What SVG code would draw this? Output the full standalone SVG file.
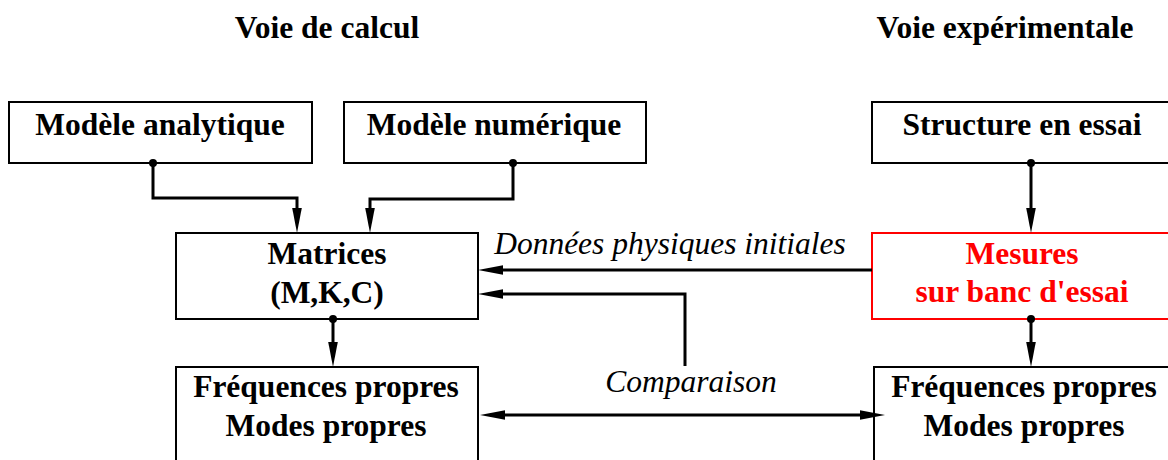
<svg xmlns="http://www.w3.org/2000/svg" width="1168" height="460" viewBox="0 0 1168 460">
  <style>
    .box { fill: #ffffff; stroke: #000000; stroke-width: 2; }
    .box-red { fill: #ffffff; stroke: #ff0000; stroke-width: 2; }
    .lbl { font-family: "Liberation Serif", "Times New Roman", serif; font-size: 31.5px; font-weight: bold; fill: #000000; text-anchor: middle; }
    .lbl-red { fill: #ff0000; }
    .note { font-family: "Liberation Serif", "Times New Roman", serif; font-size: 31.5px; font-style: italic; fill: #000000; text-anchor: middle; }
    .wire { fill: none; stroke: #000000; stroke-width: 3; }
    .dot { fill: #000000; }
  </style>
  <defs>
    <marker id="head" markerUnits="userSpaceOnUse" markerWidth="26" markerHeight="12" refX="15" refY="4.8" orient="auto-start-reverse">
      <path d="M0,0 L25,4.8 L0,9.6 z" fill="#000000"/>
    </marker>
  </defs>

  <!-- column headings -->
  <text class="lbl" x="327" y="38">Voie de calcul</text>
  <text class="lbl" x="1005" y="38">Voie expérimentale</text>

  <g id="modele-analytique">
    <rect class="box" x="9" y="102" width="303" height="61"/>
    <text class="lbl" x="160" y="135">Modèle analytique</text>
  </g>

  <g id="modele-numerique">
    <rect class="box" x="344" y="102" width="302" height="61"/>
    <text class="lbl" x="494" y="135">Modèle numérique</text>
  </g>

  <g id="structure-essai">
    <rect class="box" x="872" y="102" width="300" height="61"/>
    <text class="lbl" x="1022" y="135">Structure en essai</text>
  </g>

  <g id="matrices">
    <rect class="box" x="176" y="233" width="302" height="86"/>
    <text class="lbl" x="327" y="264">Matrices</text>
    <text class="lbl" x="327" y="303">(M,K,C)</text>
  </g>

  <g id="mesures">
    <rect class="box-red" x="872" y="233" width="300" height="86"/>
    <text class="lbl lbl-red" x="1022" y="264">Mesures</text>
    <text class="lbl lbl-red" x="1022" y="302">sur banc d'essai</text>
  </g>

  <g id="frequences-calcul">
    <rect class="box" x="176" y="367" width="302" height="110"/>
    <text class="lbl" x="326" y="397">Fréquences propres</text>
    <text class="lbl" x="326" y="436">Modes propres</text>
  </g>

  <g id="frequences-essai">
    <rect class="box" x="874" y="367" width="300" height="110"/>
    <text class="lbl" x="1024" y="397">Fréquences propres</text>
    <text class="lbl" x="1024" y="436">Modes propres</text>
  </g>

  <g id="connectors">
    <path class="wire" d="M153,163 V198 H297 V223" marker-end="url(#head)"/>
    <path class="wire" d="M513,163 V199 H370 V223" marker-end="url(#head)"/>
    <path class="wire" d="M1031,163 V223" marker-end="url(#head)"/>
    <path class="wire" d="M333,319 V357" marker-end="url(#head)"/>
    <path class="wire" d="M1031,319 V357" marker-end="url(#head)"/>
    <path class="wire" d="M872,270 H488" marker-end="url(#head)"/>
    <path class="wire" d="M685,366 V294 H488" marker-end="url(#head)"/>
    <path class="wire" d="M490,415 H875" marker-start="url(#head)" marker-end="url(#head)"/>
    <circle class="dot" cx="153" cy="163" r="4"/>
    <circle class="dot" cx="513" cy="163" r="4"/>
    <circle class="dot" cx="1031" cy="163" r="4"/>
    <circle class="dot" cx="333" cy="319" r="4"/>
    <circle class="dot" cx="1031" cy="319" r="4"/>
    <text class="note" x="670" y="254">Données physiques initiales</text>
    <text class="note" x="691" y="392">Comparaison</text>
  </g>
</svg>
